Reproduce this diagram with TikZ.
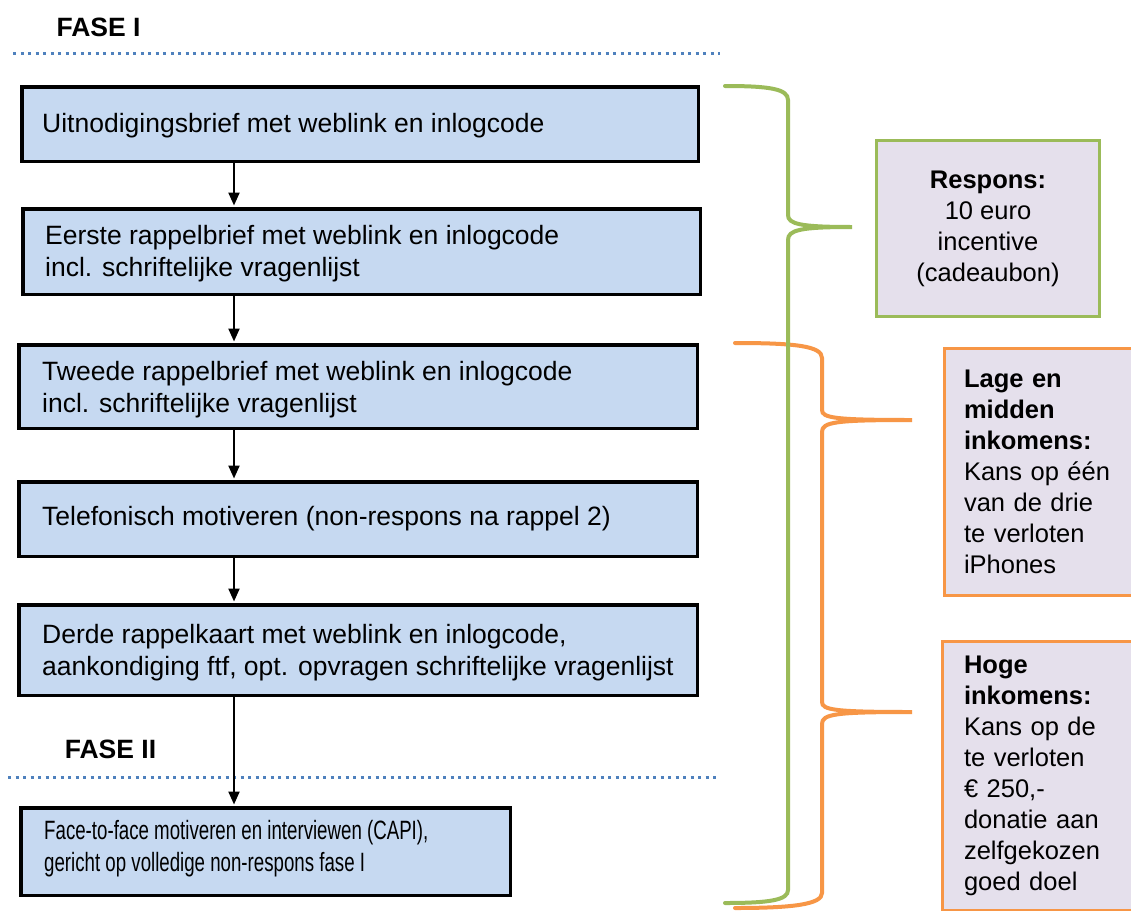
\documentclass[tikz,border=0pt]{standalone}
\usepackage{fontspec}
\setmainfont{Liberation Sans}
\newfontfamily\narrowfont[FakeStretch=0.705]{Liberation Sans}
\usetikzlibrary{arrows.meta}
\definecolor{boxblue}{RGB}{198,217,241}
\definecolor{lavender}{RGB}{229,224,236}
\definecolor{bracegreen}{RGB}{155,187,89}
\definecolor{braceorange}{RGB}{247,150,70}
\definecolor{dotblue}{RGB}{79,129,189}
\begin{document}
\begin{tikzpicture}[x=1pt,y=-1pt,
  stepbox/.style={draw=black,line width=3.5pt,fill=boxblue,inner sep=0pt},
  steptext/.style={anchor=west,align=left,inner sep=0pt,font=\fontsize{26.5}{32}\selectfont},
  narrowtext/.style={steptext,font=\narrowfont\fontsize{26.5}{32}\selectfont},
  fase/.style={inner sep=0pt,font=\bfseries\fontsize{26.5}{30}\selectfont},
  dotline/.style={dotblue,line width=3pt,dash pattern=on 3pt off 4.5pt},
  flow/.style={line width=2.2pt,-{Triangle[length=13pt,width=11pt]},shorten >=1.5pt},
  greenbox/.style={draw=bracegreen,line width=3pt,fill=lavender,align=center,inner sep=0pt,font=\fontsize{25.5}{31}\selectfont},
  orangebox/.style={draw=braceorange,line width=3pt,fill=lavender,align=left,text width=185pt,inner ysep=0pt,font=\fontsize{25.5}{31}\selectfont},
  brace/.style={line width=4pt,line cap=round}]
\useasboundingbox (0,0) rectangle (1131,910);
\clip (0,0) rectangle (1131,910);
\fill[white] (0,0) rectangle (1131,910);

% phase labels and separators
\node[fase] (f1) at (98.5,27) {FASE I};
\coordinate (d1a) at (13,53);
\coordinate (d1b) at (720,53);
\draw[dotline] (d1a) -- (d1b);

\node[fase] (f2) at (110.5,749) {FASE II};
\coordinate (d2a) at (8,777);
\coordinate (d2b) at (720,777);
\draw[dotline] (d2a) -- (d2b);

% flow boxes
\node[stepbox,minimum width=676.5pt,minimum height=74.5pt] (b1) at (360,124) {};
\node[stepbox,minimum width=677.5pt,minimum height=85.5pt] (b2) at (361.5,251.5) {};
\node[stepbox,minimum width=678.5pt,minimum height=83.5pt] (b3) at (358,386.5) {};
\node[stepbox,minimum width=678.5pt,minimum height=74.5pt] (b4) at (358,519) {};
\node[stepbox,minimum width=678.5pt,minimum height=90.5pt] (b5) at (358,650) {};
\node[stepbox,minimum width=489.5pt,minimum height=87.5pt] (b6) at (265.5,851.5) {};

\node[steptext] (t1) at (42,126) {Uitnodigingsbrief met weblink en inlogcode};
\node[steptext] (t2) at (45,254) {Eerste rappelbrief met weblink en inlogcode\\incl. schriftelijke vragenlijst};
\node[steptext] (t3) at (42,390) {Tweede rappelbrief met weblink en inlogcode\\incl. schriftelijke vragenlijst};
\node[steptext] (t4) at (42,519) {Telefonisch motiveren (non-respons na rappel 2)};
\node[steptext] (t5) at (42,653) {Derde rappelkaart met weblink en inlogcode,\\aankondiging ftf, opt. opvragen schriftelijke vragenlijst};
\node[narrowtext] (t6) at (44,849) {Face-to-face motiveren en interviewen (CAPI),\\gericht op volledige non-respons fase I};

% arrows
\coordinate (ax) at (234,0);
\draw[flow] (b1.south -| ax) -- (b2.north -| ax);
\draw[flow] (b2.south -| ax) -- (b3.north -| ax);
\draw[flow] (b3.south -| ax) -- (b4.north -| ax);
\draw[flow] (b4.south -| ax) -- (b5.north -| ax);
\draw[flow] (b5.south -| ax) -- (b6.north -| ax);

% incentive boxes
\node[greenbox,minimum width=223pt,minimum height=176pt] (r1) at (988,228.5)
  {\textbf{Respons:}\\10 euro\\incentive\\(cadeaubon)};
\node[orangebox,inner xsep=19.5pt,minimum height=247pt] (r2) at (1056.5,472)
  {\textbf{Lage en}\\\textbf{midden}\\\textbf{inkomens:}\\Kans op één\\van de drie\\te verloten\\iPhones};
\node[orangebox,inner xsep=21.5pt,minimum height=269pt] (r3) at (1056.5,776)
  {\textbf{Hoge}\\\textbf{inkomens:}\\Kans op de\\te verloten\\€ 250,-\\donatie aan\\zelfgekozen\\goed doel};

% braces
\draw[brace,braceorange] (735,343) .. controls (795,343) and (822,346) .. (822,358)
  -- (822,410) .. controls (822,418) and (835,420) .. (912,420)
  .. controls (835,420) and (822,422) .. (822,432)
  -- (822,702) .. controls (822,710) and (835,712) .. (912,712)
  .. controls (835,712) and (822,714) .. (822,724)
  -- (822,893) .. controls (822,904) and (795,908) .. (735,908);
\draw[brace,bracegreen] (725,86) .. controls (770,86) and (788,89) .. (788,100)
  -- (788,215) .. controls (788,224) and (800,227) .. (852,227)
  .. controls (800,227) and (788,230) .. (788,240)
  -- (788,890) .. controls (788,900) and (770,903) .. (725,903);
\end{tikzpicture}
\end{document}
